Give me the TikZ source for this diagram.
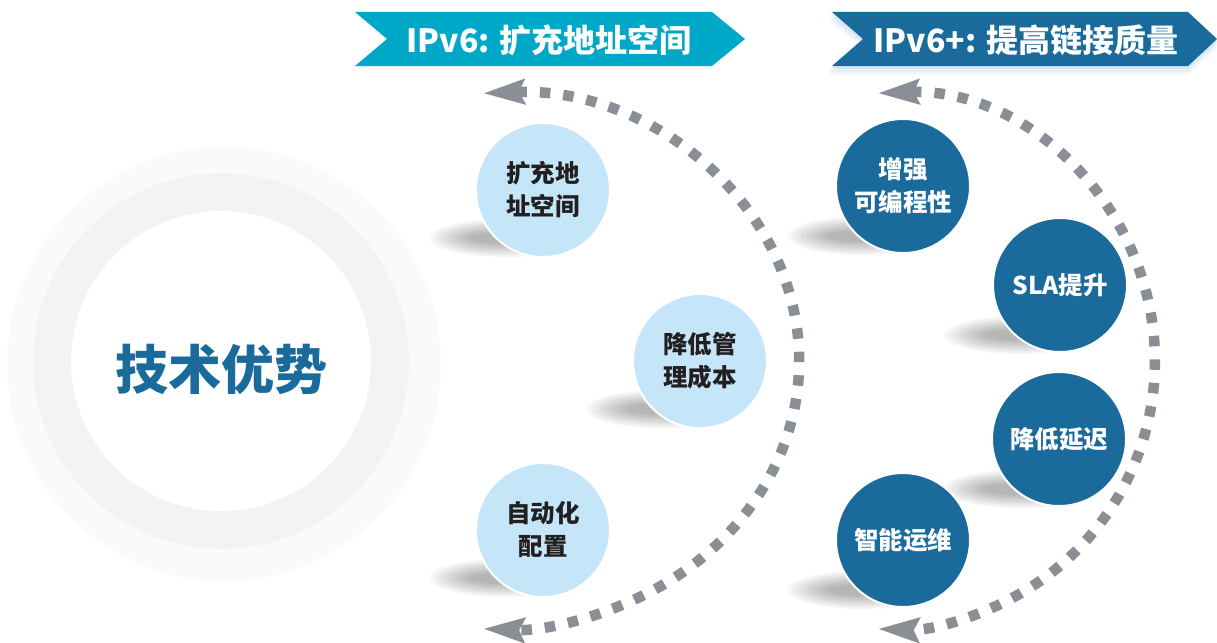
\documentclass[tikz,border=0pt]{standalone}
\usepackage{fontspec}
\setmainfont{Noto Sans CJK SC}
\usetikzlibrary{arrows.meta}
\definecolor{dashgray}{RGB}{138,143,150}
\definecolor{cyanb}{RGB}{0,168,200}
\definecolor{darkb}{RGB}{26,106,155}
\definecolor{lightb}{RGB}{197,229,248}
\definecolor{ringout}{RGB}{249,250,250}
\definecolor{ringmid}{RGB}{242,243,245}
\definecolor{txtdark}{RGB}{35,31,32}
\definecolor{glow}{RGB}{200,225,238}
\newcommand\softshadow[2]{%
  \foreach \k in {0,...,9}{%
    \fill[black,opacity=0.032] (#1,#2) ellipse [x radius={76pt-4.6pt*\k}, y radius={19pt-1.5pt*\k}];}}
\begin{document}
\begin{tikzpicture}[x=1pt,y=-1pt,
  lightcirc/.style={circle, fill=lightb, draw=white, line width=2pt, minimum size=134pt,
    inner sep=0pt, align=center, text=txtdark, font=\fontsize{24.5}{33}\selectfont\bfseries},
  darkcirc/.style={lightcirc, fill=darkb, text=white},
  dasharc/.style={draw=dashgray, line width=10.5pt, dash pattern=on 10.5pt off 13pt,
    {Stealth[length=41pt,width=24pt,inset=5pt]}-{Stealth[length=41pt,width=24pt,inset=5pt]}},
  bannertext/.style={font=\fontsize{32}{36}\selectfont\bfseries, text=white, inner sep=0pt}
]
\useasboundingbox (0,0) rectangle (1217,642);
\fill[white] (0,0) rectangle (1217,642);

% big circle
\fill[ringout] (224,364) circle[radius=217pt];
\fill[ringmid] (221,361) circle[radius=188pt];
\fill[white] (221,361) circle[radius=150pt];
\node[font=\fontsize{53}{60}\selectfont\bfseries, text=darkb, inner sep=0pt] (main) at (221,369) {技术优势};

% banners
\foreach \d/\o in {3/0.5,6/0.35,9/0.2}{
  \fill[glow,opacity=\o] (832-\d/2,12+\d) -- (1188,12+\d) -- (1217,39+\d) -- (1188,66+\d) -- (832-\d/2,66+\d) -- (863,39+\d) -- cycle;}
\fill[cyanb] (355,12) -- (712,12) -- (745,39) -- (712,66) -- (355,66) -- (387,39) -- cycle;
\fill[darkb] (832,12) -- (1188,12) -- (1217,39) -- (1188,66) -- (832,66) -- (863,39) -- cycle;
\node[bannertext] (b1) at (549,40) {IPv6: 扩充地址空间};
\node[bannertext] (b2) at (1026,40) {IPv6+: 提高链接质量};

% dashed arcs
\coordinate (lt) at (483,93.3);
\coordinate (rt) at (877.6,93.2);
\draw[dasharc] (lt) arc[start angle=-92.5, end angle=92.5, x radius=303, y radius=268];
\draw[dasharc] (rt) arc[start angle=-92, end angle=92, x radius=268, y radius=268];

% shadows
\softshadow{505}{238}
\softshadow{662}{409}
\softshadow{505}{578}
\softshadow{863}{236}
\softshadow{1020}{335}
\softshadow{1019}{489}
\softshadow{863}{590}

% circles
\node[lightcirc] (c1) at (543,190) {扩充地\\址空间};
\node[lightcirc] (c2) at (700,361) {降低管\\理成本};
\node[lightcirc] (c3) at (543,530) {自动化\\配置};
\node[darkcirc] (d1) at (903,186) {增强\\可编程性};
\node[darkcirc] (d2) at (1060,285) {SLA提升};
\node[darkcirc] (d3) at (1059,439) {降低延迟};
\node[darkcirc] (d4) at (903,540) {智能运维};
\end{tikzpicture}
\end{document}
